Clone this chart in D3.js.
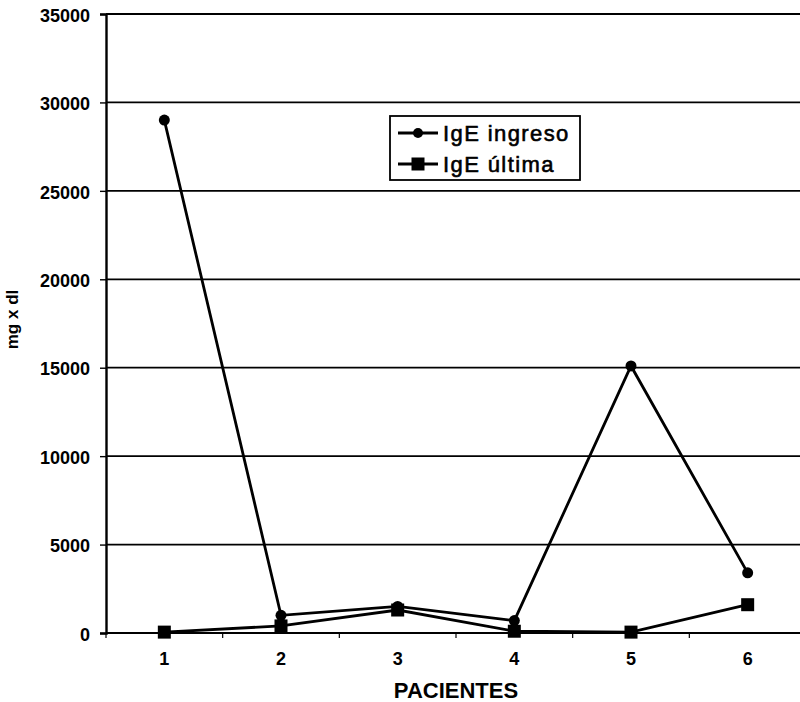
<!DOCTYPE html>
<html>
<head>
<meta charset="utf-8">
<script src="https://cdn.jsdelivr.net/npm/d3@7"></script>
<style>
  html, body { margin: 0; padding: 0; background: #fff; }
  svg { display: block; font-family: "Liberation Sans", Arial, sans-serif; }
</style>
</head>
<body>
<svg id="chart" width="800" height="702"></svg>
<script>
// Pacientes and their IgE levels (mg x dl)
const pacientes = ["1", "2", "3", "4", "5", "6"];
const igeIngreso = [29000, 1000, 1500, 700, 15100, 3400];
const igeUltima = [50, 400, 1300, 100, 50, 1600];
const yTicks = [0, 5000, 10000, 15000, 20000, 25000, 30000, 35000];
const seriesNames = ["IgE ingreso", "IgE última"];

const svg = d3.select("#chart");
const margin = { left: 106, top: 14, right: -6, bottom: 69 };
const W = 800, H = 702;
const FONT = "'Liberation Sans', Arial, sans-serif";

const x = d3.scaleBand().domain(pacientes).range([margin.left, W - margin.right]);
const y = d3.scaleLinear().domain([0, 35000]).range([H - margin.bottom, margin.top]);

// horizontal grid lines
svg.append("g")
  .selectAll("line")
  .data(yTicks.filter(d => d > 0))
  .join("line")
  .attr("x1", margin.left).attr("x2", W)
  .attr("y1", d => y(d)).attr("y2", d => y(d))
  .attr("stroke", "#000").attr("stroke-width", 1.8);

// y axis
const yAxis = svg.append("g")
  .attr("transform", `translate(${margin.left},0)`)
  .call(d3.axisLeft(y).tickValues(yTicks).tickFormat(d3.format("d")).tickSize(6).tickPadding(10));
yAxis.select(".domain").attr("stroke", "#000").attr("stroke-width", 2.4);
yAxis.selectAll(".tick line").attr("stroke", "#000").attr("stroke-width", 1.4);
yAxis.selectAll(".tick text")
  .attr("font-size", 18).attr("font-weight", "bold").attr("fill", "#000")
  .attr("font-family", FONT).attr("dy", "0.4em");

// x axis with ticks between categories
const xAxis = svg.append("g")
  .attr("transform", `translate(0,${y(0)})`)
  .call(d3.axisBottom(x).tickSize(0).tickPadding(19));
xAxis.select(".domain").remove();
xAxis.selectAll(".tick text")
  .attr("font-size", 18).attr("font-weight", "bold").attr("fill", "#000")
  .attr("font-family", FONT);
svg.append("line")
  .attr("x1", margin.left).attr("x2", W)
  .attr("y1", y(0)).attr("y2", y(0))
  .attr("stroke", "#000").attr("stroke-width", 2.2);
const boundaries = pacientes.map(p => x(p)).concat([x(pacientes[pacientes.length - 1]) + x.bandwidth()]);
svg.append("g").selectAll("line")
  .data(boundaries)
  .join("line")
  .attr("x1", d => d).attr("x2", d => d)
  .attr("y1", y(0)).attr("y2", y(0) + 5)
  .attr("stroke", "#000").attr("stroke-width", 1.2);

// axis titles
svg.append("text")
  .attr("transform", `translate(18,${(y(0) + y(35000)) / 2 - 4}) rotate(-90)`)
  .attr("text-anchor", "middle")
  .attr("font-size", 17).attr("font-weight", "bold")
  .text("mg x dl");
svg.append("text")
  .attr("x", (margin.left + W - margin.right) / 2).attr("y", 698)
  .attr("text-anchor", "middle")
  .attr("font-size", 22).attr("font-weight", "bold")
  .text("PACIENTES");

const cx = d => x(d) + x.bandwidth() / 2;
const line = d3.line().x(d => cx(d.p)).y(d => y(d.v));
const toPts = vals => pacientes.map((p, i) => ({ p, v: vals[i] }));

const ptsIng = toPts(igeIngreso);
const ptsUlt = toPts(igeUltima);

svg.append("path").datum(ptsUlt).attr("d", line)
  .attr("fill", "none").attr("stroke", "#000").attr("stroke-width", 2.8);
svg.append("path").datum(ptsIng).attr("d", line)
  .attr("fill", "none").attr("stroke", "#000").attr("stroke-width", 2.8);

// markers
svg.append("g").selectAll("rect")
  .data(ptsUlt).join("rect")
  .attr("x", d => cx(d.p) - 6.5).attr("y", d => y(d.v) - 6.5)
  .attr("width", 13).attr("height", 13).attr("fill", "#000");
svg.append("g").selectAll("circle")
  .data(ptsIng).join("circle")
  .attr("cx", d => cx(d.p)).attr("cy", d => y(d.v)).attr("r", 5.5)
  .attr("fill", "#000");

// legend
const lg = svg.append("g").attr("transform", "translate(390,116)");
lg.append("rect").attr("width", 190).attr("height", 64)
  .attr("fill", "#fff").attr("stroke", "#000").attr("stroke-width", 1.8);
seriesNames.forEach((name, i) => {
  const yy = 17 + i * 31;
  lg.append("line").attr("x1", 8).attr("x2", 48).attr("y1", yy).attr("y2", yy)
    .attr("stroke", "#000").attr("stroke-width", 2.8);
  if (i === 0) {
    lg.append("circle").attr("cx", 28).attr("cy", yy).attr("r", 5).attr("fill", "#000");
  } else {
    lg.append("rect").attr("x", 21.5).attr("y", yy - 6.5).attr("width", 13).attr("height", 13).attr("fill", "#000");
  }
  lg.append("text").attr("x", 53).attr("y", yy + 7.5)
    .attr("font-size", 22).attr("font-family", FONT)
    .attr("letter-spacing", 1.4)
    .attr("stroke", "#000").attr("stroke-width", 0.6)
    .text(name);
});
</script>
</body>
</html>
